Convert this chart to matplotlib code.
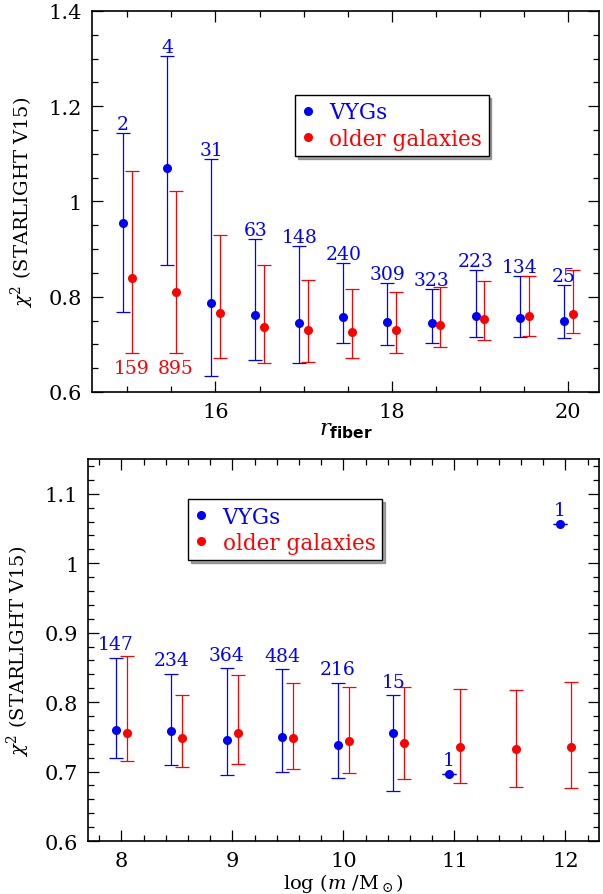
import matplotlib
matplotlib.use('Agg')
import numpy as np
from matplotlib import pyplot as plt
from matplotlib.lines import Line2D
from matplotlib.ticker import MultipleLocator, FuncFormatter

plt.rcParams['font.family'] = ['DejaVu Serif']
plt.rcParams['mathtext.fontset'] = 'custom'
plt.rcParams['mathtext.rm'] = 'DejaVu Serif'
plt.rcParams['mathtext.it'] = 'DejaVu Serif:italic'
plt.rcParams['mathtext.bf'] = 'DejaVu Serif:bold'
plt.rcParams['mathtext.sf'] = 'DejaVu Sans:bold'

# top panel: chi2 vs r_fiber
r_bins = [15.0, 15.5, 16.0, 16.5, 17.0, 17.5, 18.0, 18.5, 19.0, 19.5, 20.0]
vyg_r = [0.955, 1.070, 0.787, 0.762, 0.745, 0.758, 0.748, 0.745, 0.760, 0.755, 0.749]
vyg_r_hi = [1.143, 1.305, 1.089, 0.921, 0.907, 0.870, 0.829, 0.817, 0.856, 0.844, 0.825]
vyg_r_lo = [0.767, 0.867, 0.634, 0.668, 0.660, 0.702, 0.699, 0.703, 0.716, 0.716, 0.713]
vyg_r_n = ['2', '4', '31', '63', '148', '240', '309', '323', '223', '134', '25']
old_r = [0.840, 0.809, 0.765, 0.736, 0.730, 0.725, 0.731, 0.741, 0.753, 0.759, 0.764]
old_r_hi = [1.063, 1.021, 0.930, 0.867, 0.835, 0.816, 0.809, 0.820, 0.834, 0.844, 0.856]
old_r_lo = [0.681, 0.681, 0.671, 0.661, 0.664, 0.671, 0.681, 0.694, 0.709, 0.717, 0.723]
old_r_n = ['159', '895']

# bottom panel: chi2 vs log mass
m_bins = [8.0, 8.5, 9.0, 9.5, 10.0, 10.5, 11.0, 11.5, 12.0]
vyg_m_x = [8.0, 8.5, 9.0, 9.5, 10.0, 10.5, 11.0, 12.0]
vyg_m = [0.760, 0.758, 0.746, 0.750, 0.738, 0.756, 0.697, 1.057]
vyg_m_hi = [0.864, 0.841, 0.849, 0.847, 0.828, 0.810, 0.697, 1.057]
vyg_m_lo = [0.719, 0.709, 0.695, 0.700, 0.691, 0.672, 0.697, 1.057]
vyg_m_n = ['147', '234', '364', '484', '216', '15', '1', '1']
old_m = [0.755, 0.748, 0.755, 0.748, 0.744, 0.741, 0.736, 0.732, 0.735]
old_m_hi = [0.866, 0.810, 0.839, 0.828, 0.822, 0.822, 0.819, 0.817, 0.829]
old_m_lo = [0.715, 0.707, 0.711, 0.704, 0.698, 0.690, 0.684, 0.678, 0.676]

dx = 0.05
fmt = FuncFormatter(lambda v, p: '%g' % round(v, 3))


def panel(ax, xb, y, hi, lo, xo, yo, hio, loo):
    xb = np.array(xb) - dx
    y, hi, lo = np.array(y), np.array(hi), np.array(lo)
    ax.errorbar(xb, y, yerr=[y - lo, hi - y], fmt='o', color='blue', ms=5.5,
                elinewidth=0.9, capsize=5, capthick=0.9)
    xo = np.array(xo) + dx
    yo, hio, loo = np.array(yo), np.array(hio), np.array(loo)
    ax.errorbar(xo, yo, yerr=[yo - loo, hio - yo], fmt='o', color='red', ms=5.5,
                elinewidth=0.9, capsize=5, capthick=0.9)
    return xb, xo


def style(ax):
    ax.tick_params(which='both', direction='in', top=True, right=True,
                   labelsize=15, width=0.9)
    ax.tick_params(which='major', length=8, pad=7)
    ax.tick_params(which='minor', length=4)
    for s in ax.spines.values():
        s.set_linewidth(1.2)
    ax.xaxis.set_major_formatter(fmt)
    ax.yaxis.set_major_formatter(fmt)


def legend(ax, anchor):
    hs = [Line2D([], [], ls='none', marker='o', ms=5.5, color='blue'),
          Line2D([], [], ls='none', marker='o', ms=5.5, color='red')]
    lg = ax.legend(hs, ['VYGs', 'older galaxies'], loc='upper left',
                   bbox_to_anchor=anchor, fontsize=15.5, frameon=True,
                   fancybox=False, shadow=True, edgecolor='black',
                   handlelength=0.6, handletextpad=0.7, borderpad=0.3,
                   labelspacing=0.2, borderaxespad=0)
    lg.get_frame().set_linewidth(1.0)
    for txt, c in zip(lg.get_texts(), ['blue', 'red']):
        txt.set_color(c)


fig = plt.figure(figsize=(6.03, 8.95), dpi=100)

ax1 = fig.add_axes([0.1526, 0.5609, 0.8410, 0.4257])
xb, xo = panel(ax1, r_bins, vyg_r, vyg_r_hi, vyg_r_lo, r_bins, old_r, old_r_hi, old_r_lo)
for x, t, h in zip(xb, vyg_r_n, vyg_r_hi):
    ax1.annotate(t, (x, h), xytext=(0, 0), textcoords='offset points',
                 ha='center', va='bottom', color='blue', fontsize=13.5)
for x, t, l in zip(xo, old_r_n, old_r_lo):
    ax1.annotate(t, (x, l), xytext=(0, -4), textcoords='offset points',
                 ha='center', va='top', color='red', fontsize=13.5)
ax1.set_xlim(14.6, 20.35)
ax1.set_ylim(0.6, 1.4)
ax1.xaxis.set_major_locator(MultipleLocator(2))
ax1.xaxis.set_minor_locator(MultipleLocator(0.5))
ax1.yaxis.set_major_locator(MultipleLocator(0.2))
ax1.yaxis.set_minor_locator(MultipleLocator(0.05))
style(ax1)
ax1.set_xlabel(r'$r_{\mathsf{fiber}}$', fontsize=16, labelpad=-2)
ax1.set_ylabel(r'$\chi^2$ (STARLIGHT V15)', fontsize=14, labelpad=9)
legend(ax1, (0.40, 0.78))

ax2 = fig.add_axes([0.1460, 0.0592, 0.8470, 0.4268])
xb2, xo2 = panel(ax2, vyg_m_x, vyg_m, vyg_m_hi, vyg_m_lo, m_bins, old_m, old_m_hi, old_m_lo)
for x, t, h in zip(xb2, vyg_m_n, vyg_m_hi):
    ax2.annotate(t, (x, h), xytext=(0, 3), textcoords='offset points',
                 ha='center', va='bottom', color='blue', fontsize=13.5)
ax2.set_xlim(7.7, 12.3)
ax2.set_ylim(0.6, 1.15)
ax2.xaxis.set_major_locator(MultipleLocator(1))
ax2.xaxis.set_minor_locator(MultipleLocator(0.2))
ax2.yaxis.set_major_locator(MultipleLocator(0.1))
ax2.yaxis.set_minor_locator(MultipleLocator(0.02))
style(ax2)
ax2.set_xlabel(r'log ($m$ /M$_\odot$)', fontsize=14, labelpad=1)
ax2.set_ylabel(r'$\chi^2$ (STARLIGHT V15)', fontsize=14, labelpad=9)
legend(ax2, (0.196, 0.895))

plt.savefig('out.png', dpi=100)
